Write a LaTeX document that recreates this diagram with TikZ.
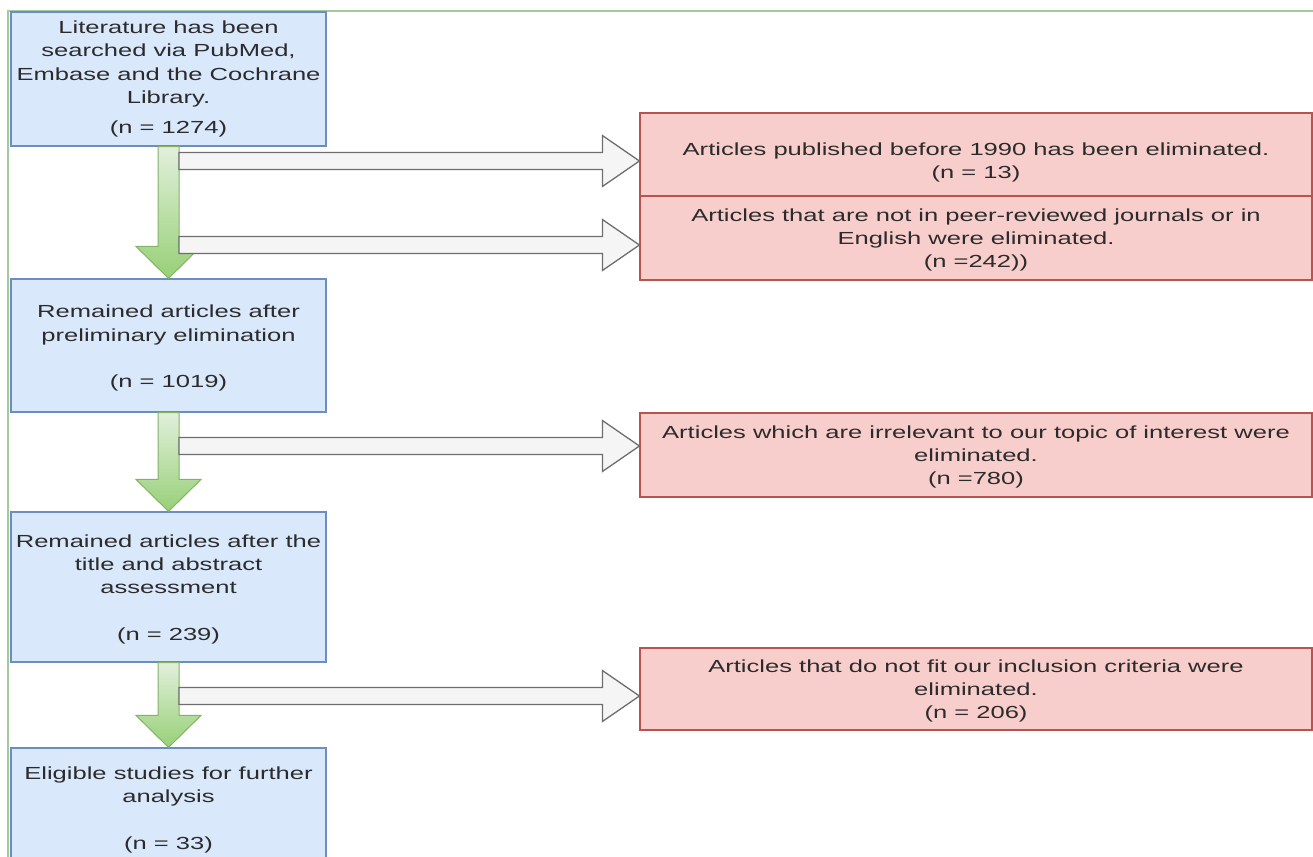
\documentclass[tikz,border=0pt]{standalone}
\usepackage{fontspec}
\setmainfont{Liberation Sans}[FakeStretch=1.46]
\usetikzlibrary{calc}
\definecolor{bluefill}{HTML}{DAE8FC}
\definecolor{blueline}{HTML}{6C8EBF}
\definecolor{redfill}{HTML}{F8CECC}
\definecolor{redline}{HTML}{B85450}
\definecolor{gtop}{HTML}{E2EFDC}
\definecolor{gbot}{HTML}{97D077}
\definecolor{gline}{HTML}{82B366}
\definecolor{grayfill}{HTML}{F5F5F5}
\definecolor{grayline}{HTML}{6E6E6E}
\definecolor{framegreen}{HTML}{A3C9A0}
\definecolor{txt}{HTML}{2B2B2B}
\newcommand{\blockarrow}[2]{%
  \path[grayarr] ($(#1)+(0,8.5)$) -- ($(#2)+(-37,8.5)$) -- ($(#2)+(-37,25.5)$) -- (#2)
    -- ($(#2)+(-37,-25.5)$) -- ($(#2)+(-37,-8.5)$) -- ($(#1)+(0,-8.5)$) -- cycle;}
\newcommand{\downarrowshape}[2]{%
  \path[greenarr] ($(#1)+(-10.5,0)$) -- ($(#2)+(-10.5,32)$) -- ($(#2)+(-32.5,32)$) -- (#2)
    -- ($(#2)+(32.5,32)$) -- ($(#2)+(10.5,32)$) -- ($(#1)+(10.5,0)$) -- cycle;}
\newcommand{\lowered}[2]{\raisebox{-#1}[\height][\depth]{\begin{tabular}{@{}c@{}}#2\end{tabular}}}
\begin{document}
\begin{tikzpicture}[x=1pt,y=1pt,
  basebox/.style={line width=1.2pt, inner sep=0pt, text=txt, align=center,
    font=\fontsize{17.5}{23.3}\selectfont},
  bluebox/.style={basebox, draw=blueline, fill=bluefill, minimum width=315pt},
  redbox/.style={basebox, draw=redline, fill=redfill, minimum width=672pt},
  grayarr/.style={draw=grayline, fill=grayfill, line width=1.3pt, line join=miter},
  greenarr/.style={draw=gline, top color=gtop, bottom color=gbot, line width=1pt, line join=miter},
  frameline/.style={draw=framegreen, line width=2pt}
]
\useasboundingbox (0,0) rectangle (1313,-856);
\clip (0,0) rectangle (1313,-856);
\fill[white] (0,0) rectangle (1313,-856);
\draw[frameline] (8,-860) -- (8,-11) -- (1315,-11);

% left column
\node[bluebox, minimum height=134pt] (b1) at (168.5,-79)
  {Literature has been\\ searched via PubMed,\\ Embase and the Cochrane\\ Library.\\[7pt] (n = 1274)};
\node[bluebox, minimum height=133pt] (b2) at (168.5,-345.5)
  {\lowered{2.5pt}{Remained articles after\\ preliminary elimination\\[23.3pt] (n = 1019)}};
\node[bluebox, minimum height=150pt] (b3) at (168.5,-587)
  {\lowered{2pt}{Remained articles after the\\ title and abstract\\ assessment\\[23.3pt] (n = 239)}};
\node[bluebox, minimum height=118pt] (b4) at (168.5,-807)
  {\lowered{2.5pt}{Eligible studies for further\\ analysis\\[23.3pt] (n = 33)}};

% right column
\node[redbox, minimum height=83pt] (r1) at (976,-154.5)
  {\lowered{7.5pt}{Articles published before 1990 has been eliminated.\\ (n = 13)}};
\node[redbox, minimum height=84pt] (r2) at (976,-238)
  {\lowered{2pt}{Articles that are not in peer-reviewed journals or in\\ English were eliminated.\\ (n =242))}};
\node[redbox, minimum height=84pt] (r3) at (976,-455)
  {\lowered{2pt}{Articles which are irrelevant to our topic of interest were\\ eliminated.\\ (n =780)}};
\node[redbox, minimum height=82pt] (r4) at (976,-689)
  {\lowered{2pt}{Articles that do not fit our inclusion criteria were\\ eliminated.\\ (n = 206)}};

% green down arrows
\downarrowshape{b1.south}{b2.north}
\downarrowshape{b2.south}{b3.north}
\downarrowshape{b3.south}{b4.north}

% gray side arrows
\coordinate (g1) at ($(b1.south)+(10.5,0)$);
\coordinate (g2) at ($(b2.south)+(10.5,0)$);
\coordinate (g3) at ($(b3.south)+(10.5,0)$);
\coordinate (t1) at ($(r1.west)+(0,-6.5)$);
\coordinate (t2) at ($(r2.west)+(0,-7)$);
\coordinate (t3) at ($(r3.west)+(0,9)$);
\coordinate (t4) at ($(r4.west)+(0,-7)$);
\coordinate (s1) at (t1 -| g1);
\coordinate (s2) at (t2 -| g1);
\coordinate (s3) at (t3 -| g2);
\coordinate (s4) at (t4 -| g3);
\blockarrow{s1}{t1}
\blockarrow{s2}{t2}
\blockarrow{s3}{t3}
\blockarrow{s4}{t4}
\end{tikzpicture}
\end{document}
